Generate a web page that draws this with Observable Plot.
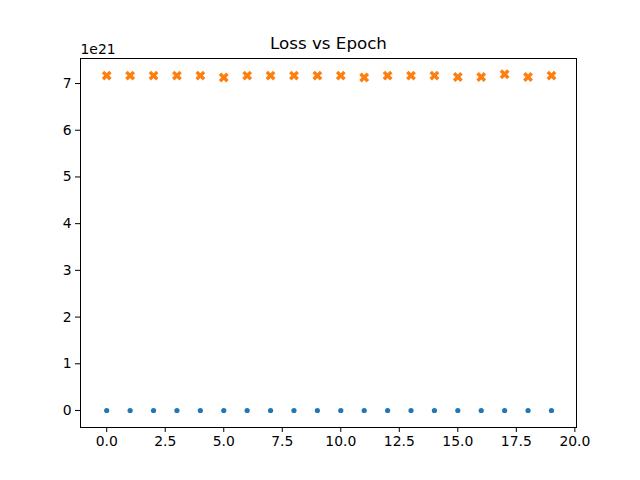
<!DOCTYPE html>
<html>
<head>
<meta charset="utf-8">
<script src="https://cdn.jsdelivr.net/npm/d3@7"></script>
<script src="https://cdn.jsdelivr.net/npm/@observablehq/plot@0.6"></script>
<style>
  html, body { margin: 0; padding: 0; background: #fff; }
  svg { font-family: "DejaVu Sans", sans-serif; }
</style>
</head>
<body>
<div id="chart"></div>
<script>
const epochs = [0,1,2,3,4,5,6,7,8,9,10,11,12,13,14,15,16,17,18,19];
const trainLoss = [0,0,0,0,0,0,0,0,0,0,0,0,0,0,0,0,0,0,0,0];
const valLoss = [7.17e21,7.17e21,7.17e21,7.17e21,7.17e21,7.13e21,7.17e21,7.17e21,7.17e21,7.17e21,
                 7.17e21,7.13e21,7.17e21,7.17e21,7.17e21,7.14e21,7.14e21,7.2e21,7.14e21,7.17e21];
const xTicks = [0,2.5,5,7.5,10,12.5,15,17.5,20];
const yTicks = [0,1e21,2e21,3e21,4e21,5e21,6e21,7e21];
const title = "Loss vs Epoch";
const offsetLabel = "1e21";

const trainData = epochs.map((e, i) => ({epoch: e, loss: trainLoss[i]}));
const valData = epochs.map((e, i) => ({epoch: e, loss: valLoss[i]}));

const chart = Plot.plot({
  width: 640,
  height: 480,
  marginLeft: 80,
  marginRight: 64,
  marginTop: 58,
  marginBottom: 53,
  style: {fontFamily: "DejaVu Sans, sans-serif", fontSize: "13.9px", color: "#000", background: "#fff"},
  x: {domain: [-1.12, 20.07], ticks: xTicks, tickFormat: d => d.toFixed(1), tickSize: 5, tickPadding: 5, label: null},
  y: {domain: [-0.364e21, 7.536e21], ticks: yTicks, tickFormat: d => String(Math.round(d / 1e21)), tickSize: 5, tickPadding: 5, label: null},
  marks: [
    Plot.frame({stroke: "#000", strokeWidth: 1}),
    Plot.axisX({ticks: xTicks, tickFormat: d => d.toFixed(1), tickSize: 5, tickPadding: 4, label: null, fontSize: 13.9, stroke: "#000", color: "#000"}),
    Plot.axisY({ticks: yTicks, tickFormat: d => String(Math.round(d / 1e21)), tickSize: 5, tickPadding: 4, label: null, fontSize: 13.9, stroke: "#000", color: "#000"}),
    Plot.dot(trainData, {x: "epoch", y: "loss", r: 2.6, fill: "#1f77b4", stroke: "none"}),
    Plot.dot(valData, {x: "epoch", y: "loss", r: 4.4, symbol: "cross", rotate: 45, fill: "#ff7f0e", stroke: "none"}),
    Plot.text([title], {frameAnchor: "top", text: d => d, dy: -10, lineAnchor: "bottom", fontSize: 16.7, fill: "#000"}),
    Plot.text([offsetLabel], {frameAnchor: "top-left", text: d => d, dy: -5, lineAnchor: "bottom", textAnchor: "start", fontSize: 13.9, fill: "#000"})
  ]
});
document.getElementById("chart").appendChild(chart);
</script>
</body>
</html>
